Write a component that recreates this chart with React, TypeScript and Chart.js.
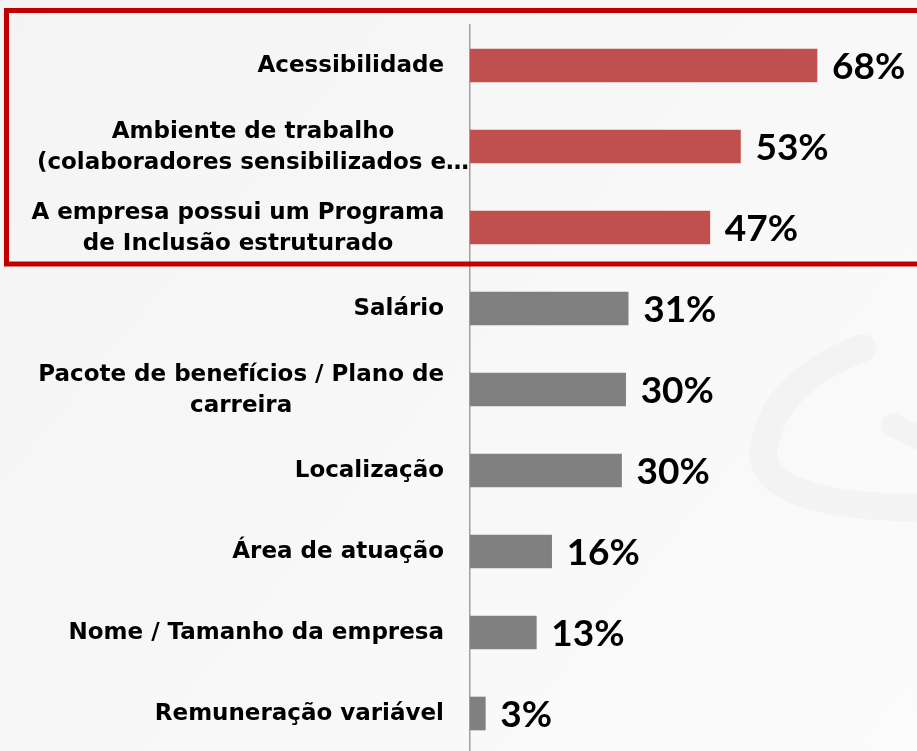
import { useEffect, useRef } from "react";
import { Chart, registerables } from "chart.js";

Chart.register(...registerables);

const categories: string[][] = [
  ["Acessibilidade"],
  ["Ambiente de trabalho", "(colaboradores sensibilizados e…"],
  ["A empresa possui um Programa", "de Inclusão estruturado"],
  ["Salário"],
  ["Pacote de benefícios / Plano de", "carreira"],
  ["Localização"],
  ["Área de atuação"],
  ["Nome / Tamanho da empresa"],
  ["Remuneração variável"],
];
const values = [68, 53, 47, 31, 30.5, 29.7, 16, 13, 3];
const valueLabels = ["68%", "53%", "47%", "31%", "30%", "30%", "16%", "13%", "3%"];
const highlighted = [true, true, true, false, false, false, false, false, false];

const RED = "#c0504d";
const GRAY = "#808080";
const LABEL_FONT = "bold 23px 'DejaVu Sans'";
const VALUE_FONT = "bold 37px Lato";

const decorPlugin = {
  id: "decor",
  beforeDraw(chart: any) {
    const { ctx, width, height } = chart;
    ctx.save();
    const g = ctx.createLinearGradient(0, 0, width, height);
    g.addColorStop(0, "#f4f4f4");
    g.addColorStop(1, "#fbfbfb");
    ctx.fillStyle = g;
    ctx.fillRect(0, 0, width, height);
    // faint watermark logo
    ctx.strokeStyle = "rgba(0,0,0,0.022)";
    ctx.lineCap = "round";
    ctx.lineWidth = 28;
    ctx.beginPath();
    ctx.moveTo(862, 348);
    ctx.quadraticCurveTo(768, 385, 763, 455);
    ctx.quadraticCurveTo(768, 508, 930, 508);
    ctx.stroke();
    ctx.lineWidth = 24;
    ctx.beginPath();
    ctx.moveTo(893, 425);
    ctx.lineTo(935, 445);
    ctx.stroke();
    ctx.restore();
  },
  afterDraw(chart: any) {
    const { ctx, chartArea } = chart;
    const xs = chart.scales.x;
    const ys = chart.scales.y;
    ctx.save();
    // category labels
    ctx.font = LABEL_FONT;
    ctx.fillStyle = "#000";
    ctx.textBaseline = "middle";
    ctx.textAlign = "center";
    const right = chartArea.left - 26;
    const lineH = 31;
    categories.forEach((lines, i) => {
      const yc = ys.getPixelForValue(i) + 1;
      const widths = lines.map((l) => {
        const w = ctx.measureText(l).width;
        return l.endsWith("…") ? Math.min(w, 382) : w;
      });
      const blockW = Math.min(Math.max(...widths), 412);
      const cx = right - blockW / 2;
      lines.forEach((l, j) => {
        const y = yc + (j - (lines.length - 1) / 2) * lineH;
        ctx.fillText(l, cx, y);
      });
    });
    // value labels
    ctx.font = VALUE_FONT;
    ctx.textAlign = "left";
    values.forEach((v, i) => {
      const x = xs.getPixelForValue(v) + 15;
      const y = ys.getPixelForValue(i) + 2;
      ctx.fillText(valueLabels[i], x, y);
    });
    // red highlight frame around first group
    const hi = highlighted.lastIndexOf(true);
    const yTop = ys.getPixelForValue(0) - 55;
    const yBot = (ys.getPixelForValue(hi) + ys.getPixelForValue(hi + 1)) / 2 - 4;
    ctx.strokeStyle = "#c00000";
    ctx.lineWidth = 5;
    ctx.strokeRect(6.5, yTop, 930, yBot - yTop);
    ctx.restore();
  },
};

export default function App() {
  const ref = useRef<HTMLCanvasElement | null>(null);
  useEffect(() => {
    document.body.style.margin = "0";
    const chart = new Chart(ref.current as HTMLCanvasElement, {
      type: "bar",
      data: {
        labels: categories.map((c) => c.join(" ")),
        datasets: [
          {
            data: values,
            backgroundColor: highlighted.map((h) => (h ? RED : GRAY)),
            barThickness: 33,
            borderWidth: 0,
          },
        ],
      },
      options: {
        indexAxis: "y",
        animation: false,
        responsive: false,
        maintainAspectRatio: false,
        layout: { padding: { left: 470, top: 25, right: 0, bottom: 2 } },
        plugins: { legend: { display: false }, tooltip: { enabled: false } },
        scales: {
          x: { display: false, min: 0, max: 87.6 },
          y: {
            display: true,
            grid: { display: false, drawTicks: false },
            ticks: { display: false },
            border: { display: true, color: "#a0a0a0", width: 1.5 },
          },
        },
      },
      plugins: [decorPlugin],
    });
    return () => chart.destroy();
  }, []);
  return (
    <div style={{ position: "absolute", left: 0, top: 0, width: 917, height: 751, overflow: "hidden" }}>
      <canvas ref={ref} width={917} height={756} style={{ display: "block" }} />
    </div>
  );
}
